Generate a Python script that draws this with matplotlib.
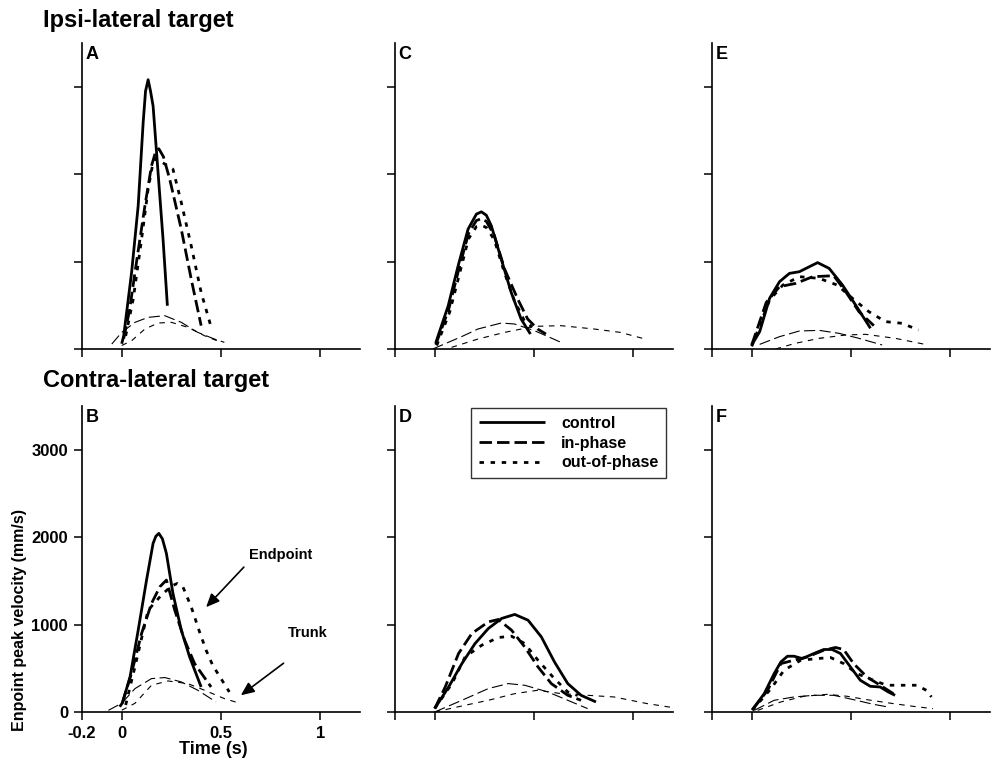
import matplotlib

matplotlib.use("Agg")
import matplotlib.pyplot as plt

plt.rcParams["font.family"] = ["Liberation Sans", "DejaVu Sans"]
plt.rcParams["font.weight"] = "bold"

FIG_W, FIG_H = 993, 767

# Panel A - ipsi-lateral, endpoint + trunk (time s, velocity mm/s)
A_CONTROL_T = [0.0, 0.01, 0.05, 0.083, 0.108, 0.12, 0.133, 0.145, 0.158, 0.183, 0.208, 0.23]
A_CONTROL_V = [60, 150, 880, 1640, 2590, 2950, 3080, 2950, 2780, 2020, 1260, 495]
A_INPHASE_T = [0.01, 0.04, 0.067, 0.117, 0.15, 0.17, 0.187, 0.21, 0.242, 0.3, 0.35, 0.4]
A_INPHASE_V = [120, 450, 880, 1640, 2095, 2250, 2290, 2200, 1940, 1370, 800, 267]
A_OUTPHASE_T = [0.02, 0.058, 0.1, 0.133, 0.155, 0.17, 0.2, 0.258, 0.3, 0.35, 0.4, 0.453]
A_OUTPHASE_V = [150, 571, 1257, 1829, 2100, 2180, 2140, 2057, 1676, 1181, 648, 229]
A_TRUNK1_T = [-0.05, 0.0, 0.067, 0.133, 0.217, 0.3, 0.383, 0.467, 0.517]
A_TRUNK1_V = [57, 190, 305, 362, 381, 305, 190, 114, 76]
A_TRUNK2_T = [0.0, 0.05, 0.117, 0.183, 0.25, 0.333, 0.417, 0.5]
A_TRUNK2_V = [40, 95, 229, 297, 305, 248, 152, 76]

# Panel B - contra-lateral
B_CONTROL_T = [-0.01, 0.003, 0.042, 0.083, 0.125, 0.158, 0.172, 0.187, 0.205, 0.225, 0.258, 0.3, 0.342, 0.4]
B_CONTROL_V = [60, 103, 401, 936, 1509, 1929, 2010, 2043, 1980, 1814, 1356, 936, 630, 286]
B_INPHASE_T = [0.003, 0.05, 0.1, 0.15, 0.192, 0.225, 0.267, 0.317, 0.367, 0.45]
B_INPHASE_V = [100, 450, 898, 1242, 1432, 1509, 1165, 821, 554, 286]
B_OUTPHASE_T = [0.02, 0.067, 0.133, 0.2, 0.25, 0.28, 0.308, 0.35, 0.392, 0.425, 0.458, 0.5, 0.542]
B_OUTPHASE_V = [80, 520, 1165, 1337, 1440, 1470, 1432, 1203, 916, 707, 535, 382, 229]
B_TRUNK1_T = [-0.067, 0.0, 0.067, 0.15, 0.217, 0.3, 0.383, 0.475]
B_TRUNK1_V = [19, 100, 268, 382, 394, 344, 249, 115]
B_TRUNK2_T = [0.0, 0.067, 0.15, 0.233, 0.333, 0.417, 0.517, 0.6]
B_TRUNK2_V = [20, 100, 306, 355, 325, 249, 153, 96]

# Panel C
C_CONTROL_T = [0.005, 0.068, 0.118, 0.168, 0.21, 0.235, 0.26, 0.285, 0.335, 0.385, 0.435, 0.482]
C_CONTROL_V = [69, 495, 952, 1371, 1543, 1569, 1530, 1410, 1029, 648, 343, 171]
C_INPHASE_T = [0.005, 0.07, 0.12, 0.17, 0.21, 0.235, 0.26, 0.3, 0.352, 0.418, 0.468, 0.518, 0.56]
C_INPHASE_V = [50, 450, 900, 1320, 1470, 1490, 1460, 1300, 914, 571, 343, 229, 171]
C_OUTPHASE_T = [0.01, 0.075, 0.125, 0.17, 0.21, 0.235, 0.26, 0.3, 0.35, 0.4, 0.45, 0.49]
C_OUTPHASE_V = [40, 420, 860, 1260, 1400, 1415, 1390, 1250, 880, 560, 330, 250]
C_TRUNK1_T = [-0.01, 0.135, 0.218, 0.335, 0.402, 0.502, 0.643]
C_TRUNK1_V = [0, 141, 229, 297, 286, 210, 69]
C_TRUNK2_T = [0.085, 0.218, 0.352, 0.502, 0.635, 0.802, 0.935, 1.06]
C_TRUNK2_V = [19, 114, 190, 259, 267, 229, 190, 114]

# Panel D
D_CONTROL_T = [0.0, 0.07, 0.137, 0.203, 0.27, 0.337, 0.403, 0.47, 0.537, 0.603, 0.67, 0.737, 0.812]
D_CONTROL_V = [40, 286, 554, 783, 955, 1070, 1116, 1050, 859, 573, 325, 191, 115]
D_INPHASE_T = [0.0, 0.053, 0.12, 0.187, 0.27, 0.32, 0.387, 0.453, 0.52, 0.587, 0.67, 0.737]
D_INPHASE_V = [40, 286, 669, 898, 1031, 1058, 936, 745, 516, 325, 191, 134]
D_OUTPHASE_T = [0.0, 0.087, 0.153, 0.237, 0.32, 0.387, 0.453, 0.52, 0.595, 0.67, 0.72]
D_OUTPHASE_V = [40, 325, 630, 764, 852, 867, 783, 592, 401, 229, 190]
D_TRUNK1_T = [0.0, 0.137, 0.27, 0.37, 0.453, 0.57, 0.67, 0.77]
D_TRUNK1_V = [0, 134, 268, 325, 306, 229, 134, 39]
D_TRUNK2_T = [0.0, 0.153, 0.27, 0.403, 0.52, 0.637, 0.77, 0.903, 1.07, 1.2]
D_TRUNK2_V = [0, 77, 134, 210, 249, 210, 191, 172, 96, 50]

# Panel E
E_CONTROL_T = [0.0, 0.04, 0.09, 0.14, 0.19, 0.24, 0.29, 0.332, 0.39, 0.457, 0.523, 0.598]
E_CONTROL_V = [46, 198, 580, 770, 865, 884, 941, 988, 922, 732, 504, 237]
E_INPHASE_T = [0.0, 0.073, 0.14, 0.223, 0.307, 0.413, 0.473, 0.54, 0.615]
E_INPHASE_V = [46, 532, 713, 751, 827, 838, 656, 427, 267]
E_OUTPHASE_T = [0.0, 0.09, 0.157, 0.24, 0.34, 0.43, 0.507, 0.59, 0.673, 0.757, 0.84]
E_OUTPHASE_V = [30, 560, 732, 827, 808, 732, 580, 427, 313, 294, 217]
E_TRUNK1_T = [0.04, 0.14, 0.24, 0.34, 0.44, 0.54, 0.657]
E_TRUNK1_V = [53, 141, 206, 213, 179, 122, 46]
E_TRUNK2_T = [0.12, 0.22, 0.34, 0.473, 0.573, 0.723, 0.873]
E_TRUNK2_V = [0, 65, 122, 160, 168, 122, 53]

# Panel F
F_CONTROL_T = [0.003, 0.063, 0.113, 0.147, 0.18, 0.213, 0.255, 0.313, 0.363, 0.405, 0.447,
               0.497, 0.547, 0.597, 0.647, 0.688, 0.722]
F_CONTROL_V = [25, 210, 439, 573, 638, 638, 611, 669, 715, 715, 669, 516, 363, 294, 286, 229, 191]
F_INPHASE_T = [0.003, 0.08, 0.147, 0.213, 0.28, 0.363, 0.422, 0.463, 0.513, 0.58, 0.647, 0.713]
F_INPHASE_V = [25, 248, 554, 592, 630, 707, 738, 715, 554, 401, 306, 210]
F_OUTPHASE_T = [0.003, 0.097, 0.163, 0.247, 0.33, 0.397, 0.463, 0.53, 0.613, 0.68, 0.763, 0.83, 0.88, 0.905]
F_OUTPHASE_V = [20, 267, 478, 592, 611, 623, 554, 439, 363, 306, 306, 306, 248, 172]
F_TRUNK1_T = [0.013, 0.113, 0.213, 0.313, 0.413, 0.513, 0.613, 0.688]
F_TRUNK1_V = [19, 134, 172, 191, 191, 141, 88, 57]
F_TRUNK2_T = [0.03, 0.147, 0.263, 0.38, 0.48, 0.58, 0.713, 0.813, 0.913]
F_TRUNK2_V = [19, 115, 180, 202, 180, 141, 96, 65, 38]

X_TICKS = [-0.2, 0, 0.5, 1]
X_TICK_LABELS = ["-0.2", "0", "0.5", "1"]
Y_TICKS = [0, 1000, 2000, 3000]
Y_TICK_LABELS = ["0", "1000", "2000", "3000"]

LW_THICK = 2.0
LW_THIN = 0.8
STYLES = {
    "control": dict(linestyle="-", linewidth=LW_THICK),
    "in-phase": dict(linestyle=(0, (4.5, 1.8)), linewidth=LW_THICK),
    "out-of-phase": dict(linestyle=(0, (1.6, 2.4)), linewidth=LW_THICK),
    "trunk1": dict(linestyle=(0, (10, 4)), linewidth=LW_THIN),
    "trunk2": dict(linestyle=(0, (5, 5)), linewidth=LW_THIN),
}


def _px_axes(fig, left, top, width, height):
    return fig.add_axes([left / FIG_W, 1 - (top + height) / FIG_H, width / FIG_W, height / FIG_H])


def _style_axes(ax, letter, show_labels):
    ax.set_xlim(-0.2, 1.2)
    ax.set_ylim(0, 3500)
    for side in ("top", "right"):
        ax.spines[side].set_visible(False)
    for side in ("left", "bottom"):
        ax.spines[side].set_linewidth(1.2)
    ax.set_xticks(X_TICKS)
    ax.set_yticks(Y_TICKS)
    ax.tick_params(direction="out", length=6, width=1.1, labelsize=12, pad=4)
    if show_labels:
        ax.set_xticklabels(X_TICK_LABELS, fontweight="bold")
        ax.set_yticklabels(Y_TICK_LABELS, fontweight="bold")
    else:
        ax.tick_params(labelbottom=False, labelleft=False)
    ax.text(0.012, 0.99, letter, transform=ax.transAxes, ha="left", va="top",
            fontsize=13, fontweight="bold")


def main():
    fig = plt.figure(figsize=(FIG_W / 100, FIG_H / 100), dpi=100)

    panels = [
        ("A", (82, 43), [(A_CONTROL_T, A_CONTROL_V, "control"), (A_INPHASE_T, A_INPHASE_V, "in-phase"),
                         (A_OUTPHASE_T, A_OUTPHASE_V, "out-of-phase"), (A_TRUNK1_T, A_TRUNK1_V, "trunk1"),
                         (A_TRUNK2_T, A_TRUNK2_V, "trunk2")]),
        ("B", (82, 406), [(B_CONTROL_T, B_CONTROL_V, "control"), (B_INPHASE_T, B_INPHASE_V, "in-phase"),
                          (B_OUTPHASE_T, B_OUTPHASE_V, "out-of-phase"), (B_TRUNK1_T, B_TRUNK1_V, "trunk1"),
                          (B_TRUNK2_T, B_TRUNK2_V, "trunk2")]),
        ("C", (395, 43), [(C_CONTROL_T, C_CONTROL_V, "control"), (C_INPHASE_T, C_INPHASE_V, "in-phase"),
                          (C_OUTPHASE_T, C_OUTPHASE_V, "out-of-phase"), (C_TRUNK1_T, C_TRUNK1_V, "trunk1"),
                          (C_TRUNK2_T, C_TRUNK2_V, "trunk2")]),
        ("D", (395, 406), [(D_CONTROL_T, D_CONTROL_V, "control"), (D_INPHASE_T, D_INPHASE_V, "in-phase"),
                           (D_OUTPHASE_T, D_OUTPHASE_V, "out-of-phase"), (D_TRUNK1_T, D_TRUNK1_V, "trunk1"),
                           (D_TRUNK2_T, D_TRUNK2_V, "trunk2")]),
        ("E", (712, 43), [(E_CONTROL_T, E_CONTROL_V, "control"), (E_INPHASE_T, E_INPHASE_V, "in-phase"),
                          (E_OUTPHASE_T, E_OUTPHASE_V, "out-of-phase"), (E_TRUNK1_T, E_TRUNK1_V, "trunk1"),
                          (E_TRUNK2_T, E_TRUNK2_V, "trunk2")]),
        ("F", (712, 406), [(F_CONTROL_T, F_CONTROL_V, "control"), (F_INPHASE_T, F_INPHASE_V, "in-phase"),
                           (F_OUTPHASE_T, F_OUTPHASE_V, "out-of-phase"), (F_TRUNK1_T, F_TRUNK1_V, "trunk1"),
                           (F_TRUNK2_T, F_TRUNK2_V, "trunk2")]),
    ]

    axes = {}
    for letter, (left, top), curves in panels:
        ax = _px_axes(fig, left, top, 278, 306)
        for t, v, kind in curves:
            label = kind if kind in ("control", "in-phase", "out-of-phase") else None
            ax.plot(t, v, color="black", label=label, solid_capstyle="butt",
                    dash_capstyle="butt", **STYLES[kind])
        _style_axes(ax, letter, show_labels=(letter == "B"))
        axes[letter] = ax

    # legend in panel D
    leg = axes["D"].legend(loc="upper right", bbox_to_anchor=(1.004, 1.02), fontsize=11.5,
                           handlelength=4.1, labelspacing=0.3, borderpad=0.5,
                           handletextpad=1.0, frameon=True, fancybox=False)
    leg.get_frame().set_edgecolor("black")
    leg.get_frame().set_linewidth(1.0)
    for text in leg.get_texts():
        text.set_fontweight("bold")

    # arrows in panel B
    ax_b = axes["B"]
    arrow = dict(arrowstyle="-|>,head_length=0.8,head_width=0.35", color="black", lw=1.2,
                 shrinkA=0, shrinkB=0)
    ax_b.annotate("", xy=(0.425, 1199), xytext=(0.615, 1657), arrowprops=arrow)
    ax_b.text(0.8, 1795, "Endpoint", ha="center", va="center", fontsize=10.5, fontweight="bold")
    ax_b.annotate("", xy=(0.6, 191), xytext=(0.815, 558), arrowprops=arrow)
    ax_b.text(0.935, 901, "Trunk", ha="center", va="center", fontsize=10.5, fontweight="bold")

    # figure-level text
    fig.text(43 / FIG_W, 1 - 20 / FIG_H, "Ipsi-lateral target", ha="left", va="center",
             fontsize=17, fontweight="bold")
    fig.text(43 / FIG_W, 1 - 381 / FIG_H, "Contra-lateral target", ha="left", va="center",
             fontsize=17, fontweight="bold")
    fig.text(20 / FIG_W, 1 - 620 / FIG_H, "Enpoint peak velocity (mm/s)", rotation=90,
             ha="center", va="center", fontsize=11.5, fontweight="bold")
    fig.text(213 / FIG_W, 1 - 749 / FIG_H, "Time (s)", ha="center", va="center",
             fontsize=13, fontweight="bold")

    fig.savefig("out.png", dpi=100)
    plt.close(fig)


if __name__ == "__main__":
    main()
